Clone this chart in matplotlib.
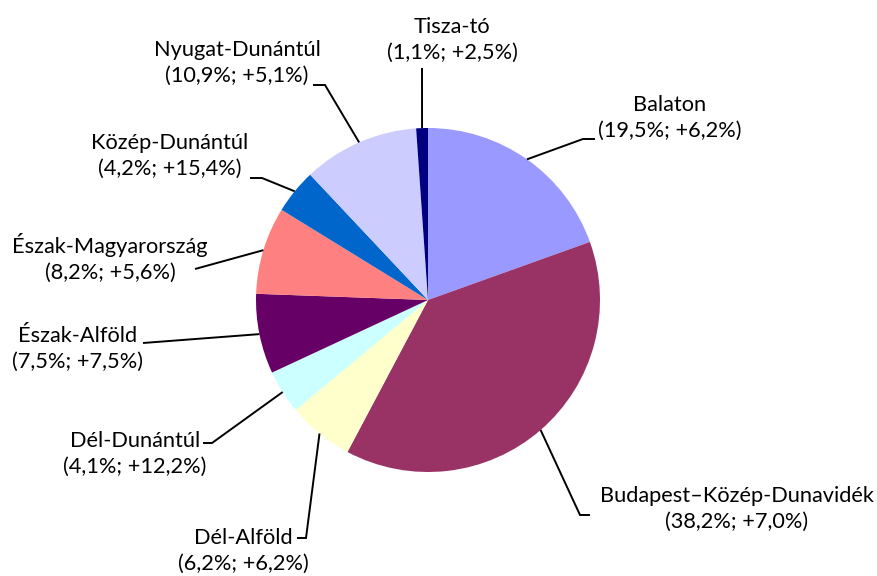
import numpy as np
import matplotlib
matplotlib.use("Agg")
import matplotlib.pyplot as plt

# regions, share of guest nights (%), change (%)
regions = ["Balaton", "Budapest\u2013Közép-Dunavidék", "Dél-Alföld", "Dél-Dunántúl",
           "Észak-Alföld", "Észak-Magyarország", "Közép-Dunántúl", "Nyugat-Dunántúl", "Tisza-tó"]
share = [19.5, 38.2, 6.2, 4.1, 7.5, 8.2, 4.2, 10.9, 1.1]
change = [6.2, 7.0, 6.2, 12.2, 7.5, 5.6, 15.4, 5.1, 2.5]
colors = ["#9999FF", "#993366", "#FFFFCC", "#CCFFFF", "#660066",
          "#FF8080", "#0066CC", "#CCCCFF", "#000080"]

def hu(v, sign=False):
    s = ("+" if sign else "") + f"{v:.1f}"
    return s.replace(".", ",") + "%"

labels = [f"{r}\n({hu(s)}; {hu(c, True)})" for r, s, c in zip(regions, share, change)]

# label centre (pixels), elbow point, end of leader line
label_pos = [(670, 118), (737, 509), (243, 551), (135, 454), (78, 349),
             (110, 258), (170, 156), (237, 63), (452, 40)]
elbow = [(583, 139), (580, 515), (306, 538), (212, 443), (143, 343),
         (195, 269), (262, 178), (325, 85), (422, 68)]
line_end = [(595, 139), (590, 515), (297, 538), (203, 443), (143, 343),
            (195, 269), (250, 178), (313, 85), (422, 68)]

plt.rcParams['font.family'] = ['Lato', 'DejaVu Sans']

fig = plt.figure(figsize=(8.77, 5.76), dpi=100)
ax = fig.add_axes([0, 0, 1, 1])

cx, cy, r = 428, 300, 172
# y axis is inverted, so counterclock=True in data goes clockwise on screen
wedges, _ = ax.pie(share, colors=colors, startangle=-90, counterclock=True,
                   center=(cx, cy), radius=r, frame=True)
ax.set_xlim(0, 877)
ax.set_ylim(576, 0)
ax.set_aspect("equal")
ax.axis("off")

for w, lab, lp, el, le in zip(wedges, labels, label_pos, elbow, line_end):
    mid = np.deg2rad((w.theta1 + w.theta2) / 2)
    sx, sy = cx + r * np.cos(mid), cy + r * np.sin(mid)
    ax.plot([sx, el[0], le[0]], [sy, el[1], le[1]], color="black", lw=1.4,
            solid_capstyle="butt", solid_joinstyle="miter")
    ax.text(lp[0], lp[1], lab, ha="center", va="center", multialignment="center",
            fontsize=15.7, color="black", linespacing=1.4)

fig.savefig("out.png", dpi=100)
